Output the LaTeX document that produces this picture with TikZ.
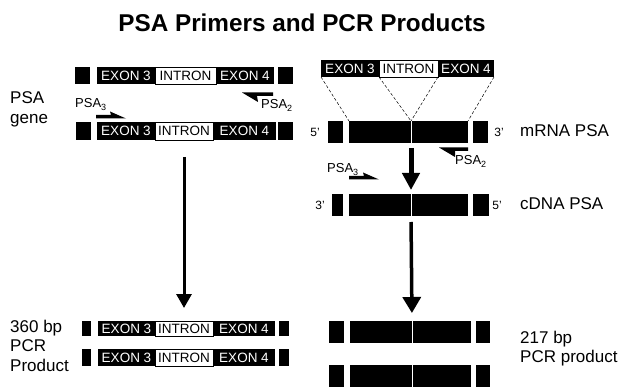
\documentclass[tikz,border=0pt]{standalone}
\usepackage{fontspec}
\setmainfont{Liberation Sans}
\usetikzlibrary{arrows.meta}
\newcommand\psasub[1]{\raisebox{-0.4ex}{\fontsize{9}{9}\selectfont #1}}
\newcommand\seg[7]{%
  \pgfmathsetmacro\segw{#4-#2}\pgfmathsetmacro\segh{#5-#3}%
  \node[#6,minimum width=\segw pt,minimum height=\segh pt,anchor=north west] (#1) at (#2,#3) {#7};}
\begin{document}
\begin{tikzpicture}[x=1pt,y=-1pt,
  blk/.style={fill=black,draw=none,inner sep=0pt,outer sep=0pt},
  exon/.style={blk,text=white,font=\fontsize{13.5}{13.5}\selectfont},
  intr/.style={fill=white,draw=black,line width=0.6pt,inner sep=0pt,outer sep=0pt,font=\fontsize{13.5}{13.5}\selectfont},
  lbl/.style={font=\fontsize{17}{19}\selectfont,inner sep=0pt,anchor=base west},
  prim/.style={font=\fontsize{13}{13}\selectfont,inner sep=0pt,anchor=base west},
  primeend/.style={font=\fontsize{12}{12}\selectfont,inner sep=0pt},
  dashln/.style={dash pattern=on 3pt off 2pt,line width=0.5pt},
  divide/.style={white,line width=0.9pt}]
\useasboundingbox (0,0) rectangle (618,387);
\fill[white] (0,0) rectangle (618,387);

\node[font=\bfseries\fontsize{24.3}{28}\selectfont,anchor=base,inner sep=0pt] (title) at (302,32) {PSA Primers and PCR Products};

% left gene, strand 1
\seg{g1L}{75}{67}{90}{84}{blk}{}
\seg{g1a}{97}{67}{155}{84}{exon}{EXON 3}
\seg{g1i}{155}{67}{216}{84}{intr}{INTRON}
\seg{g1b}{216}{67}{274}{84}{exon}{EXON 4}
\seg{g1R}{278}{67}{293}{84}{blk}{}
% left gene, strand 2
\seg{g2L}{76}{122}{91}{140}{blk}{}
\seg{g2a}{97}{122}{155}{140}{exon}{EXON 3}
\seg{g2i}{155}{122}{213}{140}{intr}{INTRON}
\seg{g2b}{213}{122}{276}{140}{exon}{EXON 4}
\seg{g2R}{278}{122}{293}{140}{blk}{}

\node[lbl] (psa) at (10,104) {PSA};
\node[lbl] (gene) at (10,124) {gene};

% primers left
\node[prim] (p3l) at (75,108) {PSA\psasub{3}};
\fill (96,115) -- (111,115) -- (110,111.5) -- (126,118.5) -- (96,118.5) -- cycle;
\node[prim] (p2l) at (261,109) {PSA\psasub{2}};
\fill (273,92.5) -- (242,92.5) -- (258,102) -- (257,96) -- (273,96) -- cycle;

% left product strands
\seg{q1L}{82}{321}{91}{336}{blk}{}
\seg{q1a}{98}{321}{155}{336}{exon}{EXON 3}
\seg{q1i}{155}{321}{213}{336}{intr}{INTRON}
\seg{q1b}{213}{321}{275}{336}{exon}{EXON 4}
\seg{q1R}{279}{321}{289}{336}{blk}{}
\seg{q2L}{82}{349}{91}{366}{blk}{}
\seg{q2a}{98}{349}{155}{366}{exon}{EXON 3}
\seg{q2i}{155}{349}{213}{366}{intr}{INTRON}
\seg{q2b}{213}{349}{275}{366}{exon}{EXON 4}
\seg{q2R}{279}{349}{289}{366}{blk}{}

\node[lbl] (bp360) at (10,332) {360 bp};
\node[lbl] (pcr1) at (10,351) {PCR};
\node[lbl] (prod1) at (10,371) {Product};

\draw[line width=3pt,-{Triangle[width=15pt,length=14pt]},shorten <=17pt,shorten >=13pt] (g2i.south) -- (q1i.north);

% right: exon box
\seg{ra}{321}{60}{379}{77}{exon}{EXON 3}
\seg{ri}{379}{60}{438}{77}{intr}{INTRON}
\seg{rb}{438}{60}{494}{77}{exon}{EXON 4}

% mRNA
\seg{mL}{328}{121}{343}{143}{blk}{}
\seg{mM}{349}{121}{468}{143}{blk}{}
\seg{mR}{473}{121}{488}{143}{blk}{}
\coordinate (mj) at (411,121);
\draw[divide] (411,121) -- (411,143);
\node[primeend] (m5) at (315,132) {5'};
\node[primeend] (m3) at (499,132) {3'};
\node[lbl] (mrna) at (520,137) {mRNA PSA};

\draw[dashln] (ra.south west) -- (mM.north west);
\draw[dashln] (ri.south west) -- (mj);
\draw[dashln] (ri.south east) -- (mj);
\draw[dashln] (rb.south east) -- (mM.north east);

% primers right
\node[prim] (p2r) at (455,165) {PSA\psasub{2}};
\fill (468,147.5) -- (439,147.5) -- (455,157) -- (455,151) -- (468,151) -- cycle;
\node[prim] (p3r) at (327,173) {PSA\psasub{3}};
\fill (349,176) -- (364,176) -- (363,172.5) -- (379,179.5) -- (349,179.5) -- cycle;

% cDNA
\seg{cL}{332}{194}{343}{216}{blk}{}
\seg{cM}{349}{194}{468}{216}{blk}{}
\seg{cR}{473}{194}{489}{216}{blk}{}
\coordinate (cj) at (411,194);
\coordinate (cjb) at (411,216);
\draw[divide] (cj) -- (cjb);
\node[primeend] (c3) at (320,205) {3'};
\node[primeend] (c5) at (497,205) {5'};
\node[lbl] (cdna) at (520,210) {cDNA PSA};

\coordinate (mjb) at (411,143);
\draw[line width=5pt,-{Triangle[width=17pt,length=17pt]},shorten <=5pt,shorten >=4pt] (mjb) -- (cj);

% right product strands
\seg{sL}{329}{321}{344}{343}{blk}{}
\seg{sM}{350}{321}{471}{343}{blk}{}
\seg{sR}{476}{321}{490}{343}{blk}{}
\seg{tL}{329}{365}{344}{387}{blk}{}
\seg{tM}{350}{365}{471}{387}{blk}{}
\seg{tR}{476}{365}{490}{387}{blk}{}
\coordinate (sj) at (412,321);
\draw[divide] (sj) -- (412,343);
\draw[divide] (412,365) -- (412,387);

\draw[line width=3.5pt,-{Triangle[width=18pt,length=16pt]},shorten <=6pt,shorten >=8pt] (cjb) -- (sj);

\node[lbl] (bp217) at (520,343) {217 bp};
\node[lbl] (pcr2) at (520,362) {PCR product};
\end{tikzpicture}
\end{document}
